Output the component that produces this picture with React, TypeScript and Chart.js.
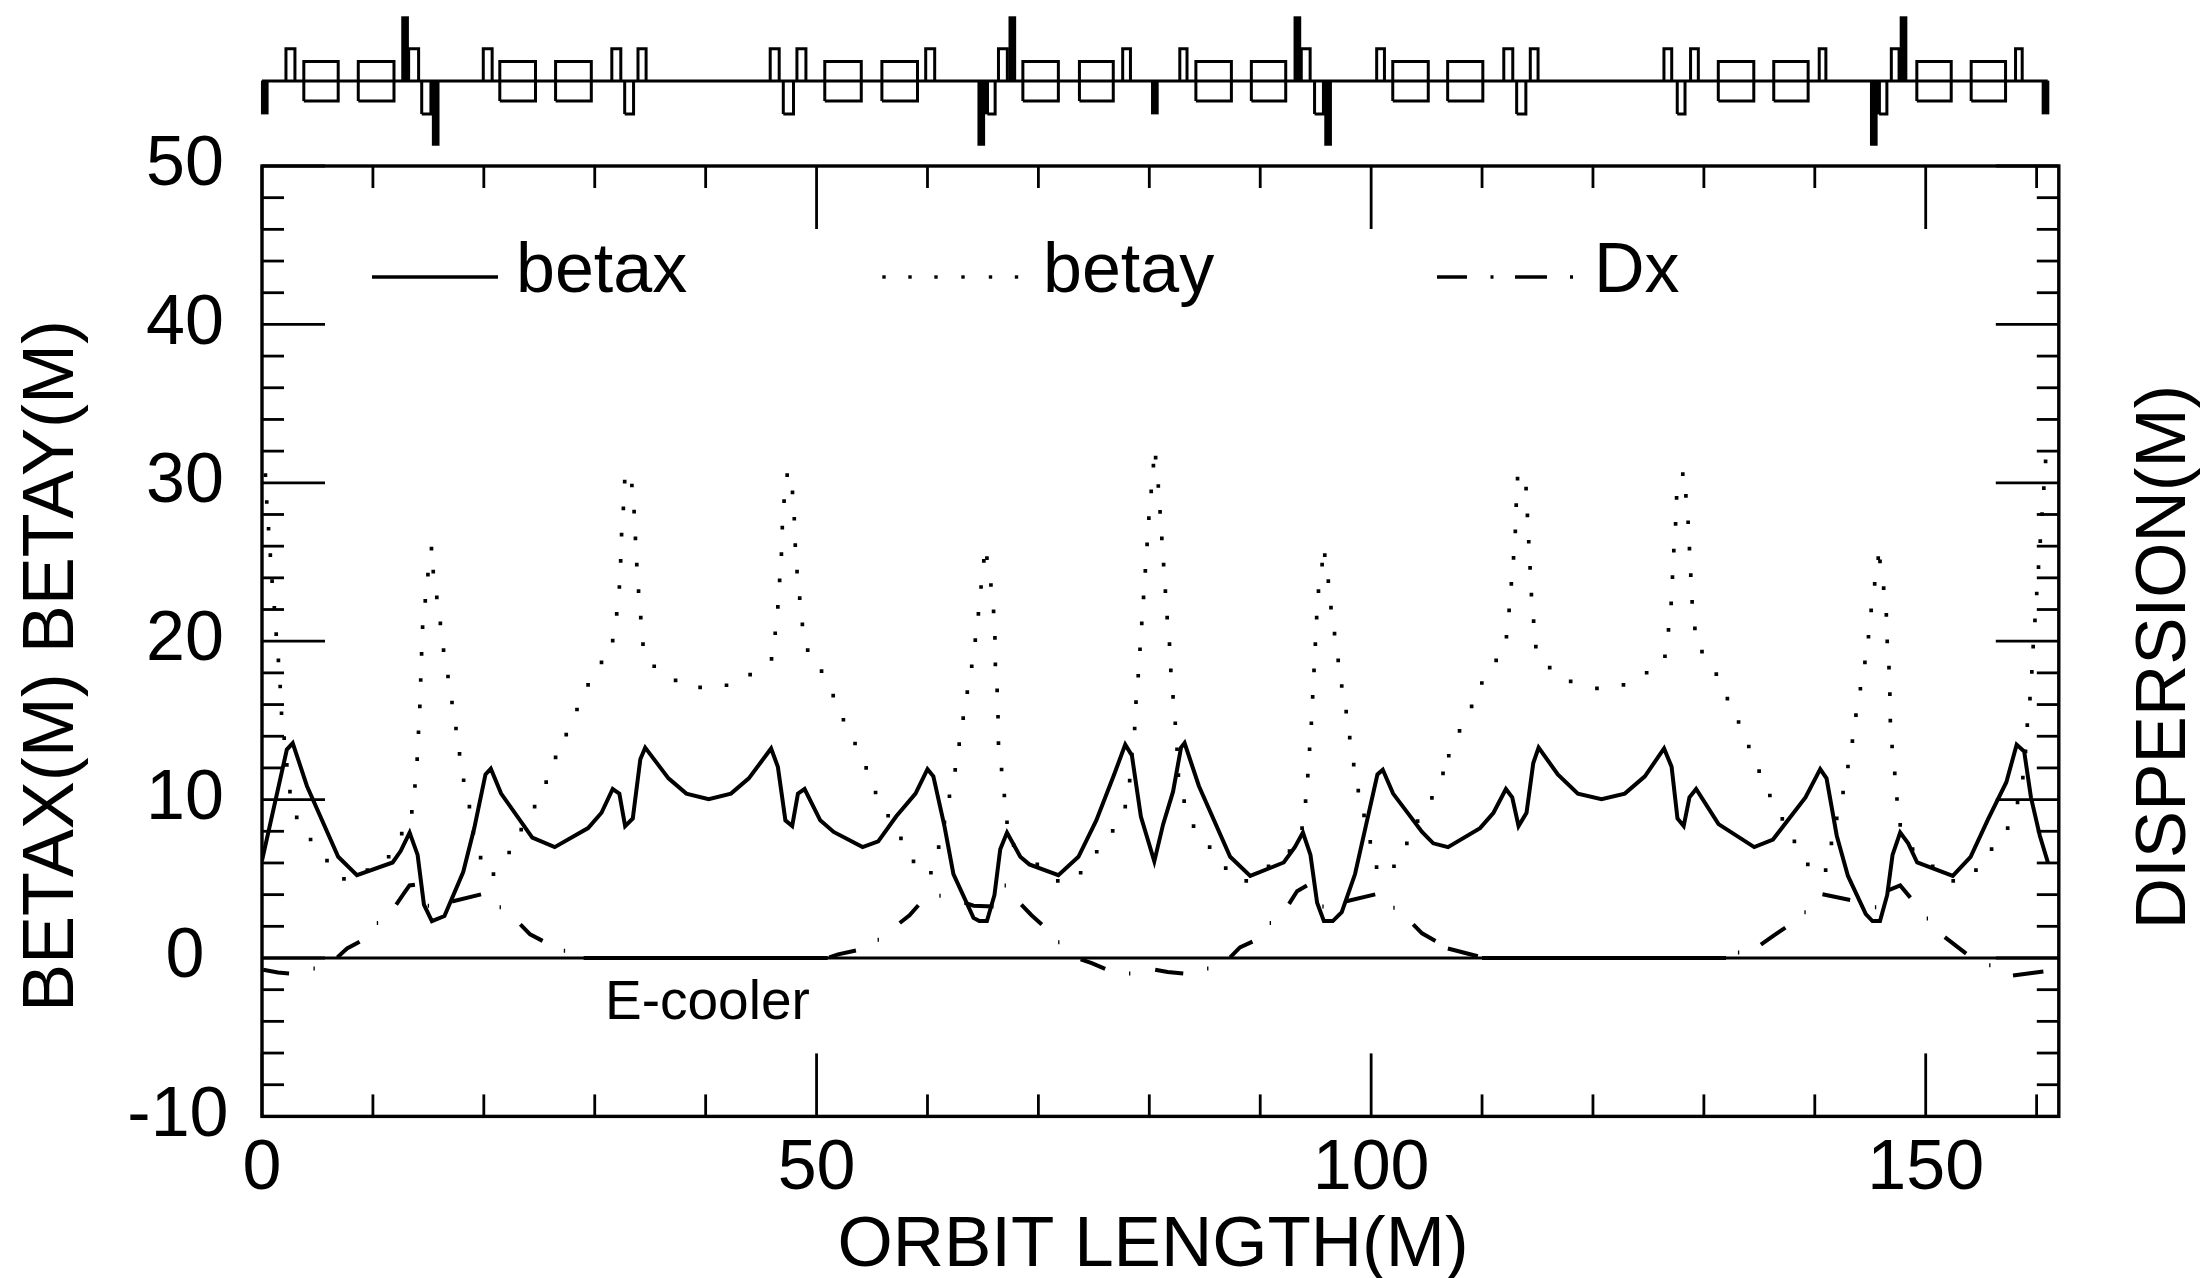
import React, { useEffect, useRef } from "react";
import { Chart, registerables } from "chart.js";

Chart.register(...registerables);

const betaxPoints: number[][] = [
  [0,6.15],[2.24,13.16],[2.77,13.57],[3.25,12.55],[4.05,10.86],[6.87,6.39],[8.56,5.23],[11.78,6.03],[12.5,6.75],[13.31,7.92],[14.03,6.51],[14.6,3.37],[15.32,2.33],[16.45,2.65],[18.14,5.43],[19.14,8.2],[20.15,11.59],[20.63,11.95],[21.56,10.38],[24.37,7.6],[26.39,7.0],[29.4,8.2],[30.61,9.17],[31.62,10.67],[32.22,10.38],[32.74,8.33],[33.43,8.81],[34.11,12.55],[34.55,13.28],[36.65,11.34],[38.26,10.38],[40.27,10.02],[42.28,10.38],[43.89,11.34],[45.9,13.23],[46.51,12.07],[47.19,8.69],[47.8,8.33],[48.32,10.38],[48.92,10.67],[50.33,8.69],[51.54,7.96],[54.15,7.0],[55.56,7.36],[57.17,8.93],[58.92,10.38],[60.0,11.92],[60.53,11.47],[61.53,8.33],[62.34,5.3],[64.15,2.53],[64.67,2.33],[65.36,2.33],[66.04,3.98],[66.56,6.87],[67.17,7.92],[68.37,6.39],[69.18,5.91],[71.8,5.23],[73.61,6.39],[75.22,8.69],[76.83,11.59],[77.83,13.47],[78.43,12.79],[79.24,8.93],[80.45,6.1],[81.25,8.45],[82.14,10.5],[82.86,13.28],[83.18,13.57],[84.47,10.86],[87.29,6.39],[89.1,5.18],[92.12,6.03],[93.12,7.0],[93.85,7.92],[94.53,6.51],[95.13,3.49],[95.74,2.33],[96.54,2.33],[97.35,2.89],[98.55,5.3],[99.56,8.45],[100.57,11.59],[101.05,11.88],[101.98,10.38],[104.59,7.96],[105.6,7.24],[106.93,7.0],[109.82,8.2],[111.03,9.17],[112.15,10.67],[112.72,10.14],[113.29,8.33],[114.01,9.17],[114.62,12.31],[115.1,13.28],[116.83,11.59],[118.64,10.38],[120.77,10.02],[122.87,10.38],[124.68,11.47],[126.41,13.23],[127.09,12.07],[127.62,8.81],[128.18,8.33],[128.7,10.14],[129.3,10.67],[131.32,8.45],[134.54,7.0],[136.23,7.48],[139.16,10.14],[140.49,11.92],[141.06,11.34],[141.98,7.72],[142.99,5.18],[144.6,2.77],[145.2,2.33],[145.88,2.33],[146.53,3.98],[147.01,6.51],[147.7,7.92],[148.42,7.24],[149.23,6.03],[152.44,5.18],[154.05,6.39],[155.66,8.81],[157.27,11.1],[158.2,13.47],[158.88,13.04],[159.49,10.14],[160.29,7.72],[161.02,6.03],
];

const betayPoints: number[][] = [
  [0.31,30.48],[0.43,28.79],[0.59,27.1],[0.75,25.43],[0.91,23.79],[1.11,22.1],[1.28,20.45],[1.48,18.79],[1.64,17.14],[1.76,15.45],[2.0,13.88],[2.24,12.19],[2.52,10.5],[3.13,8.88],[4.38,7.48],[5.86,6.15],[7.39,4.99],[9.5,5.55],[11.42,6.39],[12.6,7.85],[13.51,9.22],[13.79,10.86],[13.99,12.55],[14.11,14.25],[14.23,15.89],[14.31,17.55],[14.39,19.2],[14.48,20.89],[14.72,22.55],[14.96,24.2],[15.28,25.84],[15.44,24.39],[15.76,22.77],[16.08,21.13],[16.37,19.44],[16.77,17.77],[17.13,16.13],[17.49,14.49],[17.81,12.89],[18.18,11.22],[18.7,9.56],[19.06,7.91],[19.71,6.34],[20.87,5.3],[22.28,6.66],[23.37,8.11],[24.58,9.56],[25.62,11.1],[26.47,12.67],[27.43,14.1],[28.4,15.69],[29.4,17.24],[30.61,18.66],[31.62,20.04],[31.98,21.73],[32.22,23.42],[32.34,25.07],[32.42,26.73],[32.58,28.38],[32.7,30.07],[33.35,29.83],[33.55,28.18],[33.67,26.49],[33.79,24.83],[33.95,23.16],[34.15,21.49],[34.35,19.82],[35.36,18.42],[37.29,17.53],[39.5,17.09],[41.88,17.22],[44.01,17.89],[45.94,18.88],[46.27,20.5],[46.51,22.17],[46.67,23.84],[46.83,25.5],[46.91,27.17],[47.07,28.84],[47.35,30.48],[47.83,29.39],[47.99,27.73],[48.08,26.06],[48.24,24.39],[48.48,22.72],[48.72,21.06],[49.2,19.44],[50.45,18.11],[51.5,16.56],[52.42,15.04],[53.47,13.54],[54.47,12.0],[55.32,10.45],[56.45,8.98],[57.61,7.55],[58.74,6.1],[60.31,5.38],[61.01,7.0],[61.53,8.57],[61.98,10.21],[62.5,11.88],[62.86,13.5],[63.22,15.14],[63.59,16.78],[63.99,18.42],[64.31,20.07],[64.59,21.73],[64.83,23.42],[65.08,25.07],[65.36,25.24],[65.72,23.55],[65.96,21.88],[66.08,20.21],[66.12,18.54],[66.28,16.9],[66.36,15.23],[66.4,13.57],[66.68,11.9],[66.93,10.26],[67.17,8.57],[67.77,7.12],[69.9,5.91],[71.75,4.87],[73.81,5.38],[75.26,6.71],[76.7,8.03],[77.83,9.56],[78.23,11.2],[78.43,12.84],[78.68,14.49],[78.8,16.15],[79.0,17.82],[79.16,19.49],[79.32,21.13],[79.48,22.77],[79.64,24.44],[79.8,26.11],[79.96,27.77],[80.17,29.46],[80.37,31.08],[80.57,31.59],[80.81,29.8],[80.97,28.16],[81.13,26.49],[81.29,24.83],[81.45,23.16],[81.61,21.49],[81.82,19.82],[81.94,18.16],[82.14,16.49],[82.34,14.82],[82.5,13.18],[82.62,11.54],[83.14,9.9],[83.99,8.33],[85.44,7.0],[86.89,5.67],[88.74,4.87],[90.75,5.79],[92.64,6.75],[93.77,8.2],[94.09,9.9],[94.29,11.51],[94.45,13.18],[94.61,14.82],[94.73,16.49],[94.85,18.16],[94.97,19.82],[95.09,21.49],[95.25,23.16],[95.58,24.83],[95.82,25.43],[96.14,23.79],[96.38,22.12],[96.7,20.48],[97.03,18.79],[97.35,17.17],[97.75,15.55],[98.07,13.91],[98.43,12.21],[98.84,10.57],[99.36,9.0],[99.92,7.33],[100.49,5.74],[102.06,5.79],[103.22,7.24],[104.19,8.64],[105.48,10.11],[106.48,11.66],[107.0,12.77],[107.97,14.34],[109.06,15.89],[109.98,17.36],[111.27,18.79],[112.2,20.28],[112.44,21.95],[112.64,23.62],[112.84,25.26],[113.0,26.93],[113.08,28.59],[113.2,30.26],[113.97,29.63],[114.09,27.94],[114.21,26.28],[114.33,24.63],[114.45,22.94],[114.65,21.27],[114.85,19.66],[116.1,18.33],[117.99,17.46],[120.36,17.02],[122.75,17.24],[124.84,18.01],[126.49,19.05],[126.81,20.72],[127.05,22.39],[127.17,24.05],[127.29,25.72],[127.45,27.41],[127.54,29.05],[128.1,30.55],[128.38,29.17],[128.58,27.51],[128.7,25.84],[128.82,24.17],[128.94,22.48],[129.19,20.81],[129.83,19.34],[131.12,17.92],[132.12,16.37],[133.13,14.9],[134.05,13.35],[134.98,11.8],[135.95,10.26],[137.07,8.78],[138.16,7.36],[139.37,5.91],[140.98,5.55],[141.5,7.24],[141.98,8.81],[142.55,10.45],[142.99,12.09],[143.39,13.69],[143.71,15.33],[144.11,17.0],[144.52,18.66],[144.84,20.28],[145.08,21.95],[145.4,23.62],[145.72,25.24],[145.88,25.04],[146.21,23.35],[146.45,21.66],[146.53,19.99],[146.69,18.33],[146.77,16.66],[146.81,14.99],[146.97,13.35],[147.21,11.66],[147.41,10.04],[147.7,8.4],[148.82,6.87],[150.63,5.79],[152.48,4.87],[154.53,5.55],[155.94,6.87],[157.39,8.2],[158.28,9.82],[158.76,11.39],[159.0,13.04],[159.16,14.7],[159.4,16.37],[159.57,18.06],[159.69,19.66],[159.85,21.32],[160.01,23.01],[160.17,24.68],[160.33,26.32],[160.49,28.02],[160.65,29.66],[160.81,31.35],
];

// Dx is a dash-dot curve: each inner list is one visible dash or dot of the reference.
const dxPieces: number[][][] = [
  [[0.11,-0.74],[1.44,-0.91],[2.44,-0.98]],[[4.64,-0.66],[4.76,-0.66]],
  [[6.79,0.04],[7.67,0.6],[8.8,1.03]],[[10.35,2.21],[10.47,2.21]],
  [[12.1,3.37],[12.7,3.98],[13.3,4.58],[13.79,4.63]],[[14.94,3.3],[15.06,3.3]],
  [[17.13,3.57],[19.75,4.02]],[[21.42,3.2],[21.54,3.2]],
  [[23.29,2.12],[24.17,1.49],[25.3,1.08]],[[27.21,0.45],[27.33,0.45]],
  [[29,0],[51,0]],
  [[51.14,0.04],[51.94,0.23],[53.55,0.47]],[[55.5,1.15],[55.62,1.15]],
  [[57.5,2.21],[58.38,2.7],[59.18,3.33]],[[61.07,3.93],[61.19,3.93]],
  [[63.34,3.49],[64.15,3.3],[65.96,3.25]],[[66.95,4.58],[67.07,4.58]],
  [[68.46,3.37],[69.38,2.7],[70.31,2.12]],[[71.78,1.0],[71.9,1.0]],
  [[73.81,-0.08],[74.81,-0.32],[76.02,-0.69]],[[78.17,-0.98],[78.29,-0.98]],
  [[80.53,-0.74],[81.65,-0.88],[83.06,-0.98]],[[85.21,-0.66],[85.33,-0.66]],
  [[87.29,0.04],[88.17,0.67],[89.3,1.03]],[[90.85,2.21],[90.97,2.21]],
  [[92.6,3.42],[93.32,4.22],[94.21,4.58]],[[95.6,3.25],[95.72,3.25]],
  [[97.67,3.57],[100.37,4.02]],[[102.0,3.18],[102.12,3.18]],
  [[103.79,2.12],[104.59,1.56],[105.8,1.08]],
  [[106.92,0.6],[109.62,0.11]],
  [[110,0],[132,0]],
  [[133.07,0.35],[133.19,0.35]],
  [[135.14,0.84],[136.35,1.44],[137.35,1.92]],[[139.06,2.89],[139.18,2.89]],
  [[140.69,4.02],[143.19,3.66]],[[145.42,3.2],[145.54,3.2]],
  [[146.61,4.27],[147.7,4.58],[148.62,3.81]],[[150.09,2.5],[150.21,2.5]],
  [[151.72,1.32],[153.65,0.28]],[[155.72,-0.45],[155.84,-0.45]],
  [[157.87,-1.1],[160.61,-0.85]],
];

// Magnet lattice strip above the plot, in orbit length [start, end].
const dipoles: number[][] = [
  [3.77,6.87],[8.68,11.9],[21.44,24.66],[26.47,29.69],[50.74,54.03],[55.89,59.1],[68.6,71.8],[73.7,76.75],[84.2,87.4],[89.2,92.3],[101.95,105.15],[106.9,110.07],[131.3,134.5],[136.3,139.4],[149.2,152.3],[154.1,157.2],
];
const thinUp: number[][] = [
  [2.16,2.97],[13.22,14.12],[19.95,20.75],[31.54,32.35],[33.9,34.63],[45.82,46.63],[48.23,49.04],[59.84,60.65],[66.4,67.2],[77.6,78.3],[82.75,83.4],[93.7,94.5],[100.5,101.2],[111.96,112.77],[114.35,115.05],[126.4,127.1],[128.8,129.5],[140.4,141],[146.9,147.6],[158.1,158.7],
];
const thinDown: number[][] = [
  [14.4,15.23],[32.7,33.5],[47,47.92],[65.4,66.1],[94.9,95.7],[113.12,113.95],[127.6,128.3],[145.8,146.5],
];
const solidTallUp: number[] = [12.9,67.65,93.35,148.0];
const solidTallDown: number[] = [15.66,64.85,96.12,145.32];
const solidMidDown: number[] = [0.25,65.2,80.5,145.6,160.8];
const latticeEnd = 161.0;
const latticeLevels = { center: 55.37, dipoleTop: 56.6, dipoleBottom: 54.1, thinTop: 57.4, thinBottom: 53.28, tallTop: 59.43, tallBottom: 51.3 };

const xMajorStep = 50;
const yMajorStep = 10;

const toXY = (p: number[]) => ({ x: p[0], y: p[1] });
const FONT = '"Liberation Sans", Arial, sans-serif';
const BLACK = "#000";

function withGaps(pieces: number[][][]) {
  const out: { x: number; y: number | null }[] = [];
  pieces.forEach((piece) => {
    piece.forEach((p) => out.push(toXY(p)));
    out.push({ x: piece[piece.length - 1][0], y: null });
  });
  return out;
}

function boxes(spans: number[][], lo: number, hi: number) {
  return spans.map(([a, b]) => [[a, lo], [a, hi], [b, hi], [b, lo], [a, lo]]);
}

const latticeOutline = withGaps([
  [[0, latticeLevels.center], [latticeEnd, latticeLevels.center]],
  ...boxes(dipoles, latticeLevels.dipoleBottom, latticeLevels.dipoleTop),
  ...boxes(thinUp, latticeLevels.center, latticeLevels.thinTop),
  ...boxes(thinDown, latticeLevels.thinBottom, latticeLevels.center),
]);

const solidBars = [
  ...solidTallUp.map((x) => ({ x, y: [latticeLevels.center, latticeLevels.tallTop] })),
  ...solidTallDown.map((x) => ({ x, y: [latticeLevels.tallBottom, latticeLevels.center] })),
  ...solidMidDown.map((x) => ({ x, y: [latticeLevels.thinBottom, latticeLevels.center] })),
];

const framePlugin = {
  id: "frame",
  beforeDraw(chart: any) {
    // the reference's hyphen is narrow, so "-10" sits a little left of the centred column
    chart.scales.y.getLabelItems(chart.chartArea).forEach((item: any) => {
      if (item.label === "-10" && !item.shifted) {
        item.options.translation[0] -= 7;
        item.shifted = true;
      }
    });
  },
  afterDatasetsDraw(chart: any) {
    const { ctx, chartArea: a, scales } = chart;
    const { x: xs, y: ys } = scales;
    ctx.save();
    ctx.strokeStyle = BLACK;
    ctx.lineWidth = 2.8;
    ctx.lineCap = "butt";
    const line = (x1: number, y1: number, x2: number, y2: number) => {
      ctx.beginPath();
      ctx.moveTo(x1, y1);
      ctx.lineTo(x2, y2);
      ctx.stroke();
    };
    xs.ticks.forEach((t: any) => {
      const px = xs.getPixelForValue(t.value);
      const len = t.value % xMajorStep === 0 ? 63 : 22;
      line(px, a.top, px, a.top + len);
      line(px, a.bottom, px, a.bottom - len);
    });
    ys.ticks.forEach((t: any) => {
      const py = ys.getPixelForValue(t.value);
      const len = t.value % yMajorStep === 0 ? 63 : 22;
      line(a.left, py, a.left + len, py);
      line(a.right, py, a.right - len, py);
    });
    line(a.left, ys.getPixelForValue(0), a.right, ys.getPixelForValue(0));
    ctx.lineWidth = 3.4;
    ctx.strokeRect(a.left, a.top, a.right - a.left, a.bottom - a.top);
    ctx.restore();
  },
  afterDraw(chart: any) {
    const { ctx } = chart;
    ctx.save();
    ctx.fillStyle = BLACK;
    ctx.strokeStyle = BLACK;
    ctx.textBaseline = "alphabetic";

    // axis titles
    ctx.textAlign = "center";
    ctx.font = `71px ${FONT}`;
    ctx.fillText("ORBIT LENGTH(M)", 1153, 1266);
    const vertical = (text: string, x: number, y: number) => {
      ctx.save();
      ctx.translate(x, y);
      ctx.rotate(-Math.PI / 2);
      ctx.fillText(text, 0, 0);
      ctx.restore();
    };
    vertical("DISPERSION(M)", 2185, 657);
    ctx.font = `72px ${FONT}`;
    vertical("BETAX(M) BETAY(M)", 73, 666);

    // legend
    ctx.font = `70px ${FONT}`;
    ctx.textAlign = "left";
    ctx.fillText("betax", 516, 292);
    ctx.fillText("betay", 1043, 292);
    ctx.fillText("Dx", 1594, 292);
    ctx.lineWidth = 3.5;
    ctx.beginPath();
    ctx.moveTo(372, 277);
    ctx.lineTo(498, 277);
    ctx.stroke();
    [884, 910, 936, 963, 990.5, 1016.5].forEach((px) => ctx.fillRect(px - 1.7, 275.3, 3.4, 3.4));
    ctx.beginPath();
    ctx.moveTo(1437, 277);
    ctx.lineTo(1467, 277);
    ctx.moveTo(1490.5, 277);
    ctx.lineTo(1493.5, 277);
    ctx.moveTo(1515, 277);
    ctx.lineTo(1547, 277);
    ctx.moveTo(1570, 277);
    ctx.lineTo(1573, 277);
    ctx.stroke();

    ctx.font = `55px ${FONT}`;
    ctx.fillText("E-cooler", 605, 1019);
    ctx.restore();
  },
};

export default function App() {
  const ref = useRef<HTMLCanvasElement>(null);
  useEffect(() => {
    const chart = new Chart(ref.current as any, {
      type: "line",
      data: {
        datasets: [
          { label: "betax", data: betaxPoints.map(toXY), borderColor: BLACK, borderWidth: 4, pointRadius: 0, tension: 0, fill: false },
          { label: "betay", data: betayPoints.map(toXY), showLine: false, pointStyle: "rect", pointRadius: 2.6, pointBorderWidth: 0, pointBackgroundColor: BLACK, borderWidth: 0 },
          { label: "Dx", data: withGaps(dxPieces), borderColor: BLACK, borderWidth: 4, pointRadius: 0, tension: 0, spanGaps: false, fill: false },
          { label: "lattice", data: latticeOutline, borderColor: BLACK, borderWidth: 3, pointRadius: 0, tension: 0, spanGaps: false, clip: false, fill: false },
          { type: "bar", label: "solid magnets", data: solidBars, backgroundColor: BLACK, borderWidth: 0, barThickness: 7, grouped: false, clip: false },
        ],
      } as any,
      options: {
        responsive: false,
        animation: false,
        events: [],
        layout: { autoPadding: false, padding: { top: 166, right: 146.2, left: 0, bottom: 0 } },
        plugins: { legend: { display: false }, title: { display: false }, tooltip: { enabled: false } },
        scales: {
          x: {
            type: "linear",
            min: 0,
            max: 162,
            offset: false,
            grid: { display: false },
            border: { display: false },
            afterFit: (s: any) => { s.height = 161.6; },
            ticks: {
              stepSize: 10,
              includeBounds: false,
              autoSkip: false,
              maxRotation: 0,
              minRotation: 0,
              padding: 3,
              color: BLACK,
              font: { family: FONT, size: 70 },
              callback: (v: any) => (Number(v) % xMajorStep === 0 ? String(v) : ""),
            },
          },
          y: {
            type: "linear",
            min: -10,
            max: 50,
            grid: { display: false },
            border: { display: false },
            afterFit: (s: any) => { s.width = 262; },
            ticks: {
              stepSize: 2,
              autoSkip: false,
              padding: 18.5,
              crossAlign: "center",
              color: BLACK,
              font: { family: FONT, size: 70 },
              callback: (v: any) => (Number(v) % yMajorStep === 0 ? String(v) : ""),
            },
          },
        },
      },
      plugins: [framePlugin],
    } as any);
    return () => chart.destroy();
  }, []);
  return (
    <div style={{ position: "absolute", left: 0, top: 0, width: 2205, height: 1278, background: "#fff" }}>
      <canvas ref={ref} width={2205} height={1278} style={{ display: "block", width: 2205, height: 1278 }} />
    </div>
  );
}
